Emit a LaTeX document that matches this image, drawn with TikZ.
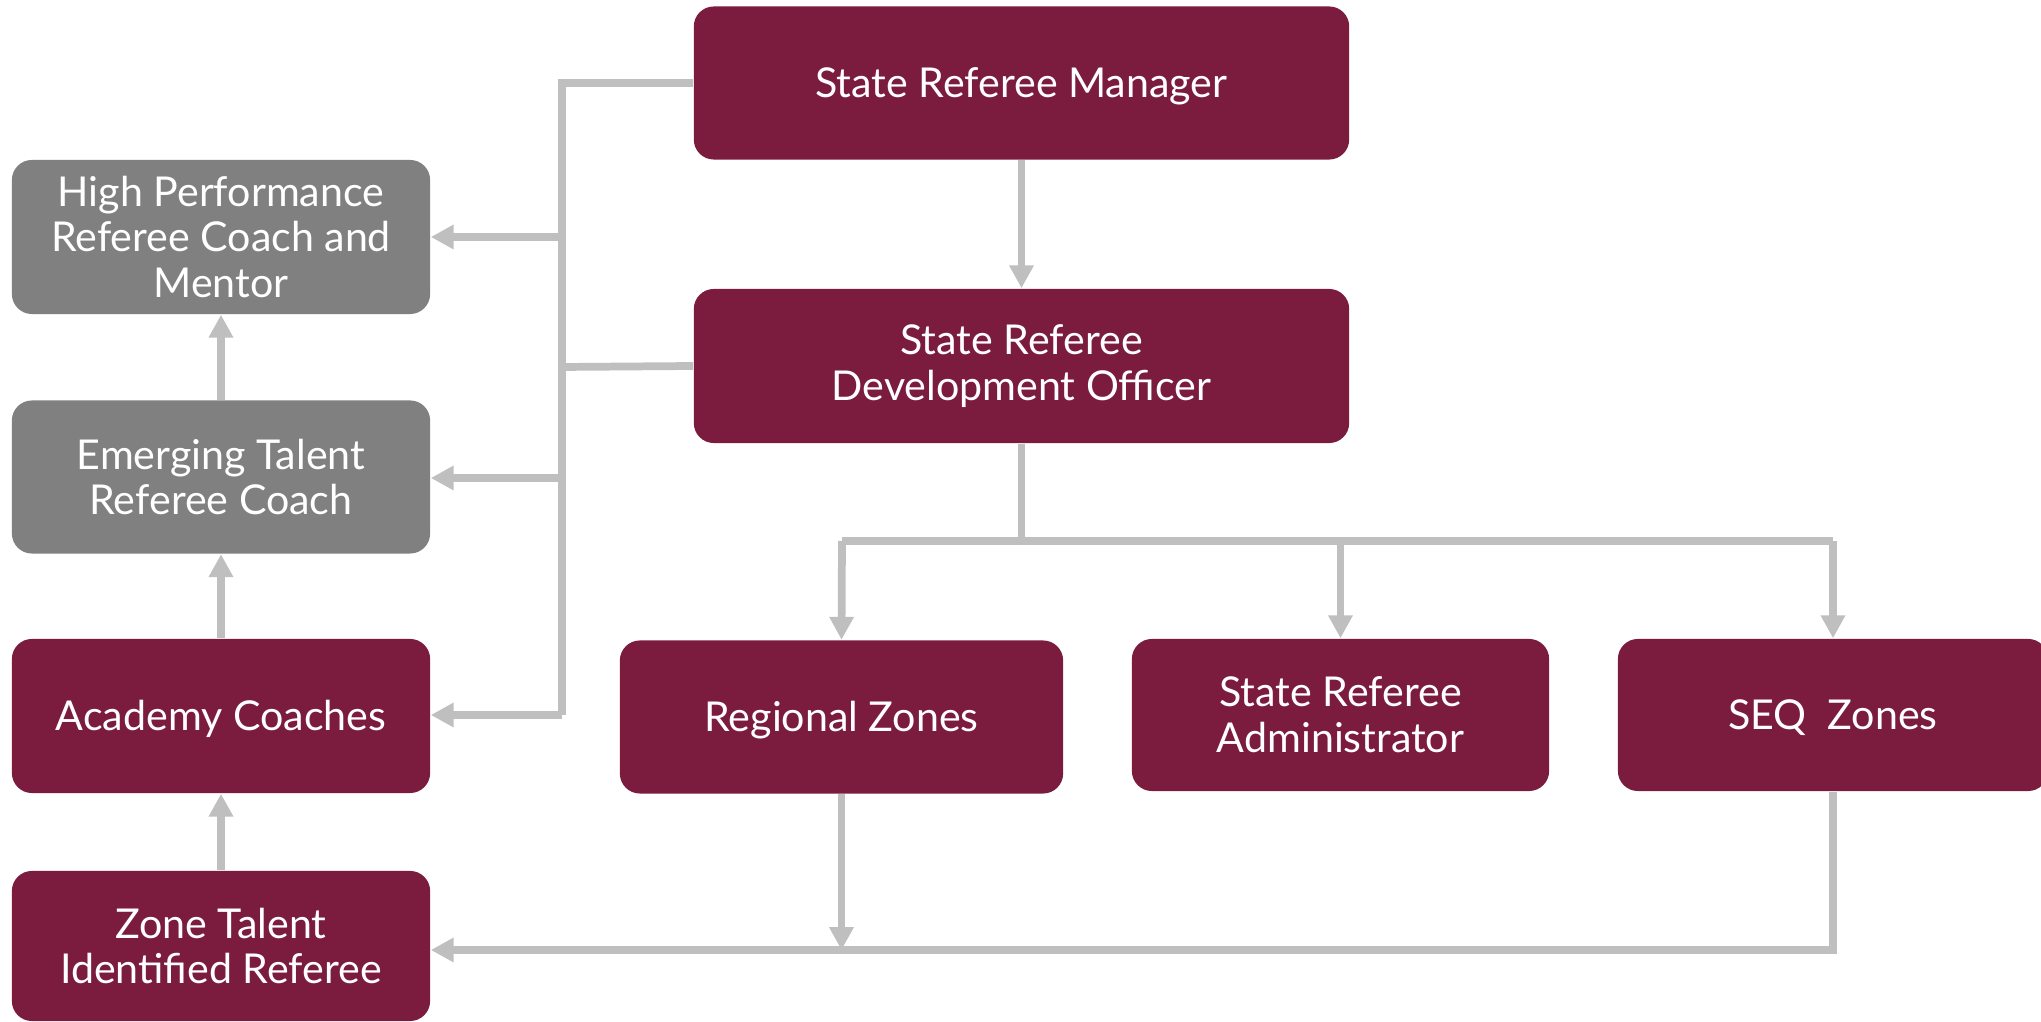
\documentclass[tikz,border=0pt]{standalone}
\usepackage{fontspec}
\setmainfont{Lato}
\usetikzlibrary{arrows.meta}
\definecolor{maroon}{HTML}{7B1C3E}
\definecolor{boxgray}{HTML}{808080}
\definecolor{linegray}{HTML}{BFBFBF}
\begin{document}
\begin{tikzpicture}[x=0.01cm,y=-0.01cm,
  box/.style={rectangle,rounded corners=0.2cm,fill=maroon,text=white,align=center,
    inner sep=0pt,font=\fontsize{11.7}{13}\selectfont},
  oneline/.style={text height=8.4pt,text depth=0pt},
  graybox/.style={box,fill=boxgray},
  conn/.style={draw=linegray,line width=2.2pt},
  arr/.style={conn,-{Triangle[length=6.5pt,width=6.6pt]}}]
\useasboundingbox (0,0) rectangle (2041,1022);
% boxes
\node[box,oneline,minimum width=6.55cm,minimum height=1.53cm] (srm) at (1021.5,83) {State Referee Manager};
\node[box,minimum width=6.55cm,minimum height=1.54cm] (srdo) at (1021.5,366) {State Referee\\Development Officer};
\node[graybox,minimum width=4.18cm,minimum height=1.54cm] (hprc) at (221,237) {High Performance\\Referee Coach and\\Mentor};
\node[graybox,minimum width=4.18cm,minimum height=1.53cm] (etrc) at (221,477) {Emerging Talent\\Referee Coach};
\node[box,oneline,minimum width=4.18cm,minimum height=1.54cm] (acad) at (221,716) {Academy Coaches};
\node[box,minimum width=4.18cm,minimum height=1.50cm] (ztir) at (221,946) {Zone Talent\\Identified Referee};
\node[box,oneline,minimum width=4.43cm,minimum height=1.53cm] (reg) at (841.5,717) {Regional Zones};
\node[box,minimum width=4.17cm,minimum height=1.52cm] (sra) at (1340.5,715) {State Referee\\Administrator};
\node[box,oneline,minimum width=4.30cm,minimum height=1.52cm] (seq) at (1833,715) {SEQ\ \ Zones};
% junction coordinates
\coordinate (tTop) at (562,83);
\coordinate (tSrdo) at (562,367);
\coordinate (tH) at (562,237);
\coordinate (tE) at (562,478);
\coordinate (tA) at (562,715);
\coordinate (bSplit) at (1021.5,541);
\coordinate (bReg) at (842,541);
\coordinate (bSra) at (1340.5,541);
\coordinate (bSeq) at (1833,541);
\coordinate (lReg) at (841.5,950);
\coordinate (lSeq) at (1833,950);
% left trunk
\draw[conn] (srm.west) -- (tTop) -- (tA);
\draw[conn] (srdo.west) -- (tSrdo);
\draw[arr] (tH) -- (hprc.east);
\draw[arr] (tE) -- (etrc.east |- tE);
\draw[arr] (tA) -- (acad.east |- tA);
% vertical left arrows
\draw[arr] (etrc.north) -- (hprc.south);
\draw[arr] (acad.north) -- (etrc.south);
\draw[arr] (ztir.north) -- (acad.south);
% centre
\draw[arr] (srm.south) -- (srdo.north);
\draw[conn] (srdo.south) -- (bSplit);
\draw[conn] (bReg) -- (bSeq);
\draw[arr] (bReg) -- (reg.north);
\draw[arr] (bSra) -- (sra.north);
\draw[arr] (bSeq) -- (seq.north);
% bottom
\draw[arr] (reg.south) -- (lReg);
\draw[arr] (seq.south) -- (lSeq) -- (ztir.east |- lSeq);
\end{tikzpicture}
\end{document}
